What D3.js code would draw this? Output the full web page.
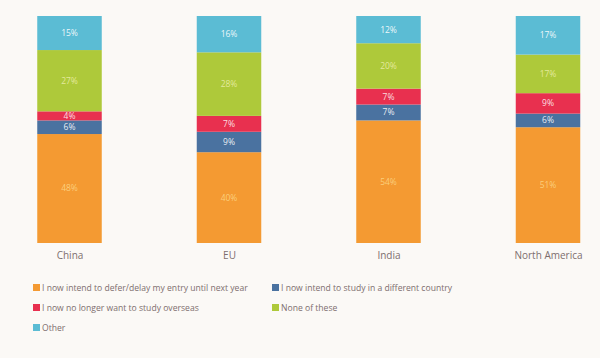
<!DOCTYPE html>
<html><head><meta charset="utf-8">
<script src="https://cdn.jsdelivr.net/npm/d3@7"></script>
<style>
html,body{margin:0;padding:0;background:#fbf9f6;}
svg{display:block;font-family:"Open Sans",sans-serif;}
</style></head>
<body><svg id="c" width="600" height="358"></svg>
<script>
const categories = ["China","EU","India","North America"];
const seriesNames = ["I now intend to defer/delay my entry until next year","I now intend to study in a different country","I now no longer want to study overseas","None of these","Other"];
const deferDelay = [48,40,54,51];
const differentCountry = [6,9,7,6];
const noLonger = [4,7,7,9];
const noneOfThese = [27,28,20,17];
const other = [15,16,12,17];
const colors = ["#f49a32","#4a72a0","#e8304f","#aec93a","#5bbcd4"];

const seriesValues = [deferDelay,differentCountry,noLonger,noneOfThese,other];
const rows = categories.map((c,i)=>{const o={cat:c}; seriesNames.forEach((s,j)=>o[s]=seriesValues[j][i]); return o;});
const stack = d3.stack().keys(seriesNames)(rows);

const svg = d3.select("#c");
const x = d3.scalePoint().domain(categories).range([69.5,548]);
const bw = 64.5;
const y = d3.scaleLinear().domain([0,100]).range([243,16]);

const g = svg.append("g");
stack.forEach((layer,j)=>{
  layer.forEach((d,i)=>{
    const x0 = x(categories[i]) - bw/2;
    g.append("rect").attr("x",x0).attr("width",bw)
      .attr("y",y(d[1])).attr("height",y(d[0])-y(d[1]))
      .attr("fill",colors[j]);
  });
});
stack.forEach((layer,j)=>{
  layer.forEach((d,i)=>{
    const v = d[1]-d[0];
    g.append("text").attr("x",x(categories[i])).attr("y",(y(d[0])+y(d[1]))/2)
      .attr("dy","0.35em").attr("text-anchor","middle")
      .attr("font-size",8.5).attr("fill", j===0 ? "#fcd98a" : (j===3 ? "#eef0b0" : "#ffffff"))
      .attr("fill-opacity", j===1||j===4 ? 0.9 : 0.85)
      .text(v+"%");
  });
});

const xAxis = d3.axisBottom(x).tickSize(0).tickPadding(6);
const ax = svg.append("g").attr("transform","translate(0,246)").call(xAxis);
ax.select(".domain").remove();
ax.selectAll("text").attr("font-size",10).attr("fill","#7d6e6e").attr("font-family","Open Sans, sans-serif");

const legendPos = [[33,288],[272,288],[33,308],[272,308],[33,328]];
seriesNames.forEach((s,j)=>{
  const [lx,ly] = legendPos[j];
  svg.append("rect").attr("x",lx).attr("y",ly-4).attr("width",7).attr("height",7).attr("fill",colors[j]);
  svg.append("text").attr("x",lx+9).attr("y",ly).attr("dy","0.35em")
    .attr("font-size",8.6).attr("fill","#7d6e6e").text(s);
});
</script></body></html>
